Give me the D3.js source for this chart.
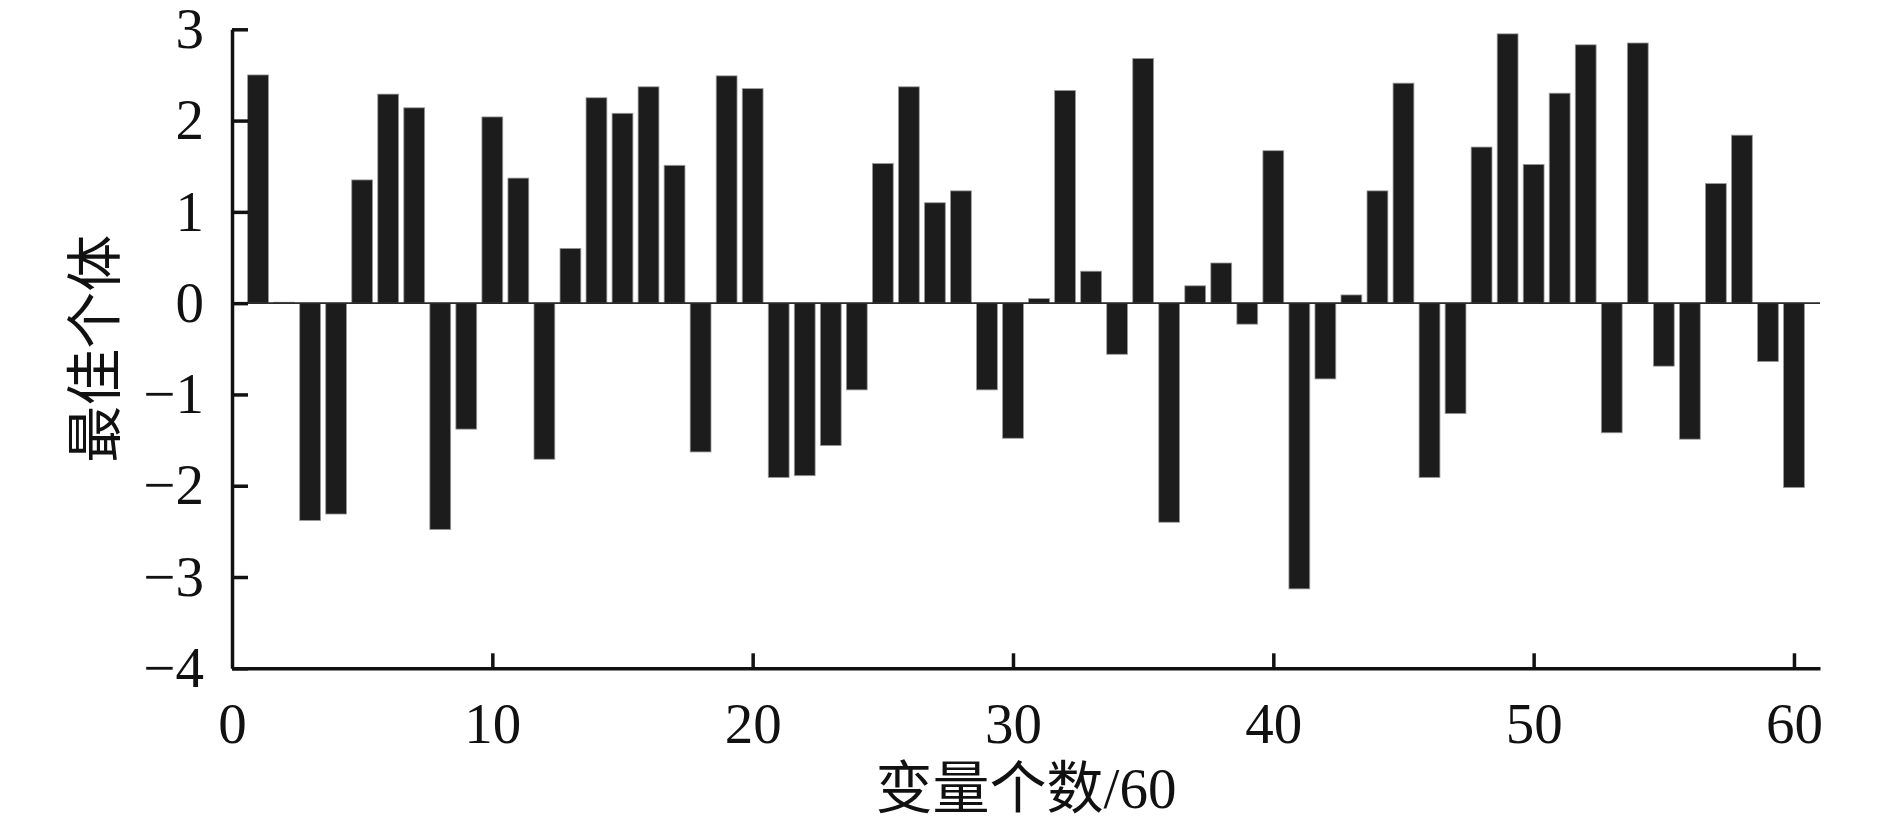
<!DOCTYPE html>
<html>
<head>
<meta charset="utf-8">
<script src="https://cdn.jsdelivr.net/npm/d3@7"></script>
<style>
  body { margin: 0; background: #fff; }
  svg text { font-family: "Liberation Serif", "Noto Sans CJK SC", serif; fill: #111; }
</style>
</head>
<body>
<div id="chart"></div>
<script>
// variable index 1..60 and best-individual value for each
const variables = d3.range(1, 61);
const bestValues = [
  2.50, 0.01, -2.38, -2.31, 1.35, 2.29, 2.14, -2.48, -1.38, 2.04,
  1.37, -1.71, 0.60, 2.25, 2.08, 2.37, 1.51, -1.63, 2.49, 2.35,
  -1.91, -1.89, -1.56, -0.95, 1.53, 2.37, 1.10, 1.23, -0.95, -1.48,
  0.05, 2.33, 0.35, -0.56, 2.68, -2.40, 0.19, 0.44, -0.23, 1.67,
  -3.13, -0.83, 0.09, 1.23, 2.41, -1.91, -1.21, 1.71, 2.95, 1.52,
  2.30, 2.83, -1.42, 2.85, -0.69, -1.49, 1.31, 1.84, -0.64, -2.02
];
const xTicks = [0, 10, 20, 30, 40, 50, 60];
const yTicks = [-4, -3, -2, -1, 0, 1, 2, 3];
const xTitle = '变量个数/60';
const yTitle = '最佳个体';

const width = 1890;
const height = 827;
const plotLeft = 232, plotRight = 1820, plotTop = 29.3, plotBottom = 668.3;

const svg = d3.select('#chart')
  .append('svg')
    .attr('width', width)
    .attr('height', height);

svg.append('rect')
  .attr('width', width)
  .attr('height', height)
  .attr('fill', '#fff');

const x = d3.scaleLinear().domain([0, 61]).range([plotLeft, plotRight]);
const y = d3.scaleLinear().domain([-4, 3]).range([plotBottom, plotTop]);

const barW = (x(1) - x(0)) * 0.8;

// bars
svg.append('g')
  .selectAll('rect')
  .data(variables)
  .enter()
  .append('rect')
    .attr('x', d => x(d) - barW / 2)
    .attr('width', barW)
    .attr('y', (d, i) => y(Math.max(0, bestValues[i])))
    .attr('height', (d, i) => Math.abs(y(bestValues[i]) - y(0)))
    .attr('fill', '#1c1c1c')
    .attr('stroke', '#9a9a9a')
    .attr('stroke-width', 0.8);

// zero line
svg.append('line')
  .attr('x1', x(0))
  .attr('x2', x(61))
  .attr('y1', y(0))
  .attr('y2', y(0))
  .attr('stroke', '#2a2a2a')
  .attr('stroke-width', 1.8);

// y axis, ticks pointing inward
const yAxis = svg.append('g')
  .attr('transform', `translate(${plotLeft},0)`)
  .call(d3.axisLeft(y)
    .tickValues(yTicks)
    .tickSizeInner(-16)
    .tickSizeOuter(0)
    .tickPadding(28)
    .tickFormat(d => d < 0 ? '\u2212' + Math.abs(d) : d));

// x axis, ticks pointing up
const xAxis = svg.append('g')
  .attr('transform', `translate(0,${plotBottom})`)
  .call(d3.axisBottom(x)
    .tickValues(xTicks)
    .tickSizeInner(-15)
    .tickSizeOuter(0)
    .tickPadding(34));

[yAxis, xAxis].forEach(g => {
  g.select('.domain').attr('stroke', '#111').attr('stroke-width', 3.5);
  g.selectAll('.tick line').attr('stroke', '#111').attr('stroke-width', 3.5);
  g.selectAll('.tick text')
    .style('font-size', '57px')
    .attr('fill', '#111');
});
xAxis.selectAll('.tick').filter(d => d === 0).select('line').remove();

// axis titles
svg.append('text')
  .attr('x', (plotLeft + plotRight) / 2)
  .attr('y', 808)
  .attr('text-anchor', 'middle')
  .style('font-size', '57px')
  .text(xTitle);

svg.append('text')
  .attr('transform', `translate(95,${(plotTop + plotBottom) / 2}) rotate(-90)`)
  .attr('text-anchor', 'middle')
  .attr('dominant-baseline', 'central')
  .style('font-size', '57px')
  .text(yTitle);
</script>
</body>
</html>
